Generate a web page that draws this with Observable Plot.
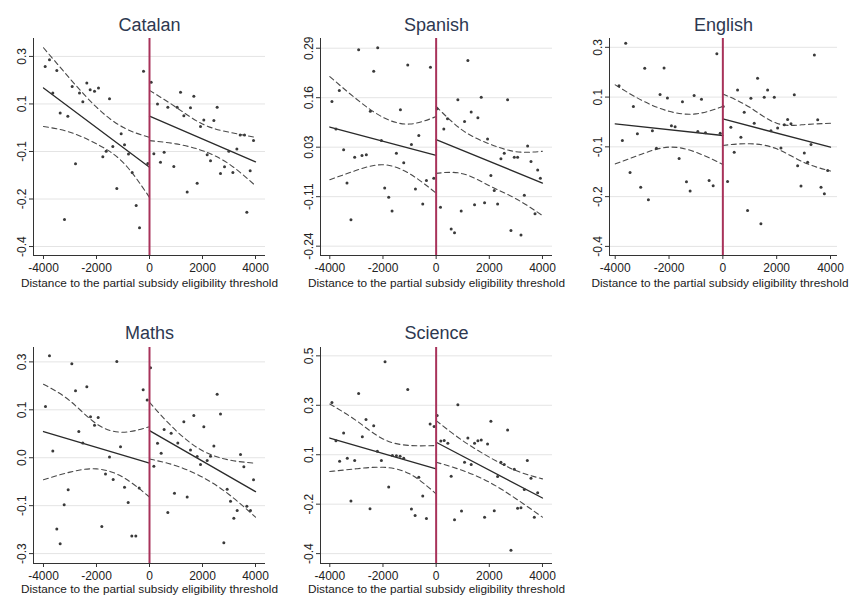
<!DOCTYPE html>
<html>
<head>
<meta charset="utf-8">
<script src="https://cdn.jsdelivr.net/npm/d3@7"></script>
<script src="https://cdn.jsdelivr.net/npm/@observablehq/plot@0.6"></script>
<style>
  html, body { margin: 0; padding: 0; background: #fff; }
  #root { position: relative; width: 851px; height: 596px; font-family: "Liberation Sans", Arial, sans-serif; }
  .panel { position: absolute; }
</style>
</head>
<body>
<div id="root"></div>
<script>
// ---------------- DATA ----------------
const xTicks = [-4000, -2000, 0, 2000, 4000];
const xTitle = "Distance to the partial subsidy eligibility threshold";
const ciLeftX = [-4000, -3000, -2000, -1000, 0];
const ciRightX = [0, 1000, 2000, 3000, 4000];

// Catalan
const catalanX = [-3937,-3774,-3648,-3497,-3371,-3208,-3082,-2918,-2792,-2642,-2516,-2365,-2239,-2075,-1925,-1761,-1635,-1509,-1384,-1233,-1069,-943,-792,-654,-503,-377,-226,-63,
  63,164,302,415,553,692,918,1044,1170,1296,1421,1547,1673,1799,1925,2050,2176,2302,2428,2553,2679,2830,2994,3145,3296,3421,3585,3673,3799,3925];
const catalanY = [0.263,0.288,0.165,0.248,0.092,-0.300,0.080,0.189,-0.095,0.165,0.133,0.202,0.177,0.172,0.184,-0.069,-0.049,0.144,-0.032,-0.186,0.015,-0.025,-0.059,-0.127,-0.249,-0.331,0.245,-0.094,
  0.205,-0.058,0.125,-0.090,-0.053,0.113,-0.105,0.113,0.168,0.082,-0.199,0.111,0.153,-0.167,0.042,0.066,-0.062,-0.084,0.064,0.113,-0.131,-0.106,-0.049,-0.127,-0.041,0.011,0.011,-0.274,-0.121,-0.010];
const catalanFitLeft = [0.184, -0.108];
const catalanFitRight = [0.080, -0.088];
const catalanUpperLeft = [0.332, 0.218, 0.113, 0.039, 0.002];
const catalanLowerLeft = [0.042, 0.021, -0.022, -0.090, -0.219];
const catalanUpperRight = [0.175, 0.113, 0.051, 0.021, 0.002];
const catalanLowerRight = [-0.010, -0.022, -0.047, -0.096, -0.176];
const catalanTicks = [0.3, 0.125, -0.05, -0.225, -0.4];
const catalanTickLabels = ["0.3", "0.1", "-0.1", "-0.2", "-0.4"];

// Spanish
const spanishX = [-3920,-3769,-3643,-3480,-3354,-3204,-3065,-2915,-2789,-2626,-2475,-2349,-2198,-2060,-1935,-1784,-1658,-1495,-1344,-1219,-1068,-930,-779,-653,-503,-364,-214,-88,
  38,163,289,427,565,691,817,942,1068,1193,1319,1445,1570,1696,1822,1935,2060,2186,2312,2437,2563,2688,2814,2940,3065,3191,3317,3442,3568,3719,3819,3920];
const spanishY = [0.147,0.074,0.177,0.018,-0.071,-0.169,-0.002,0.286,0.003,0.005,0.121,0.228,0.291,0.043,-0.084,-0.109,-0.146,0.009,0.125,-0.017,0.245,0.032,-0.087,0.056,-0.127,-0.064,0.239,-0.058,
  0.128,-0.136,0.074,0.101,-0.194,-0.204,0.152,-0.146,0.094,0.257,0.119,-0.129,0.104,0.159,-0.124,0.047,-0.051,-0.091,-0.127,-0.006,0.009,0.152,-0.198,-0.002,-0.002,-0.210,-0.104,0.028,-0.013,-0.153,-0.036,-0.058];
const spanishFitLeft = [0.079, 0.003];
const spanishFitRight = [0.045, -0.071];
const spanishUpperLeft = [0.214, 0.154, 0.105, 0.087, 0.107];
const spanishLowerLeft = [-0.062, -0.037, -0.022, -0.046, -0.098];
const spanishUpperRight = [0.134, 0.070, 0.034, 0.013, 0.014];
const spanishLowerRight = [-0.045, -0.046, -0.078, -0.113, -0.158];
const spanishTicks = [0.29, 0.1575, 0.025, -0.1075, -0.24];
const spanishTickLabels = ["0.29", "0.16", "0.03", "-0.11", "-0.24"];

// English
const englishX = [-3859,-3734,-3610,-3449,-3325,-3176,-3052,-2903,-2767,-2618,-2469,-2333,-2184,-2060,-1911,-1774,-1625,-1501,-1352,-1216,-1067,-931,-794,-645,-509,-360,-223,-99,
  12,174,298,422,546,670,794,918,1042,1166,1290,1414,1538,1663,1787,1911,2035,2159,2283,2407,2531,2655,2779,2903,3027,3151,3275,3400,3524,3648,3772,3896];
const englishY = [0.165,-0.028,0.314,-0.140,0.092,-0.004,-0.192,0.226,-0.236,0.007,-0.055,0.134,0.227,0.122,0.024,0.021,-0.091,0.109,-0.173,-0.205,0.131,0.004,0.117,0.000,-0.168,-0.187,0.277,-0.002,
  0.092,-0.172,0.019,-0.069,0.150,-0.016,0.072,-0.274,0.121,0.033,0.191,-0.320,0.124,0.150,0.007,0.124,0.016,-0.054,0.028,0.046,0.031,0.133,-0.116,-0.188,-0.072,-0.104,-0.042,0.273,0.045,-0.192,-0.215,-0.133];
const englishFitLeft = [0.031, -0.010];
const englishFitRight = [0.048, -0.051];
const englishUpperLeft = [0.168, 0.113, 0.075, 0.066, 0.092];
const englishLowerLeft = [-0.110, -0.075, -0.051, -0.069, -0.112];
const englishUpperRight = [0.136, 0.089, 0.033, 0.028, 0.033];
const englishLowerRight = [-0.045, -0.039, -0.057, -0.104, -0.135];
const englishTicks = [0.3, 0.125, -0.05, -0.225, -0.4];
const englishTickLabels = ["0.3", "0.1", "-0.1", "-0.2", "-0.4"];

// Maths
const mathsX = [-3925,-3774,-3648,-3497,-3371,-3220,-3069,-2931,-2792,-2667,-2516,-2365,-2226,-2075,-1937,-1799,-1660,-1509,-1371,-1233,-1094,-943,-805,-667,-516,-390,-239,-88,
  38,164,302,440,553,692,818,943,1069,1296,1421,1547,1673,1799,1925,2050,2176,2302,2428,2553,2679,2805,2931,3057,3182,3308,3434,3560,3673,3811,3925];
const mathsY = [0.160,0.319,0.021,-0.223,-0.269,-0.147,-0.100,0.294,0.210,0.082,0.046,0.222,0.128,0.102,0.126,-0.215,-0.051,0.002,-0.068,0.301,0.034,-0.092,-0.140,-0.245,-0.245,-0.095,0.213,0.181,
  0.282,-0.027,0.045,0.014,0.088,-0.171,0.077,-0.111,0.046,0.113,-0.123,0.024,0.132,0.004,-0.021,0.097,-0.009,0.005,0.037,0.199,0.137,-0.266,-0.099,-0.136,-0.189,-0.165,0.010,-0.028,-0.152,-0.165,-0.069];
const mathsFitLeft = [0.082, -0.017];
const mathsFitRight = [0.085, -0.106];
const mathsUpperLeft = [0.230, 0.178, 0.106, 0.080, 0.097];
const mathsLowerLeft = [-0.069, -0.045, -0.035, -0.061, -0.123];
const mathsUpperRight = [0.173, 0.085, 0.022, -0.007, -0.017];
const mathsLowerRight = [-0.004, -0.025, -0.061, -0.115, -0.186];
const mathsTicks = [0.3, 0.15, 0, -0.15, -0.3];
const mathsTickLabels = ["0.3", "0.1", "0.0", "-0.1", "-0.3"];

// Science
const scienceX = [-3920,-3769,-3631,-3480,-3342,-3204,-3065,-2915,-2776,-2638,-2487,-2349,-2211,-2060,-1922,-1784,-1646,-1495,-1357,-1219,-1068,-930,-791,-653,-503,-364,-226,-75,
  38,176,302,440,565,691,817,955,1068,1193,1319,1445,1570,1696,1822,1935,2060,2186,2312,2437,2563,2688,2814,2940,3065,3191,3317,3430,3568,3693,3819];
const scienceY = [0.288,0.114,0.020,0.149,0.034,-0.161,0.024,0.329,0.132,0.210,-0.196,0.182,0.066,0.024,0.473,-0.097,0.046,0.045,0.043,0.034,0.347,-0.197,-0.226,-0.052,-0.138,-0.240,0.190,0.178,
  0.228,0.113,0.115,0.102,-0.048,-0.246,0.278,-0.206,0.016,0.126,0.005,0.102,0.114,0.117,-0.234,0.099,0.202,-0.205,-0.049,0.016,0.005,0.163,-0.385,-0.016,-0.193,-0.191,-0.108,0.024,-0.057,-0.234,-0.123];
const scienceFitLeft = [0.126, -0.014];
const scienceFitRight = [0.107, -0.147];
const scienceUpperLeft = [0.281, 0.205, 0.122, 0.092, 0.092];
const scienceLowerLeft = [-0.026, -0.014, -0.007, -0.037, -0.128];
const scienceUpperRight = [0.205, 0.114, 0.039, -0.022, -0.060];
const scienceLowerRight = [0.016, -0.022, -0.075, -0.150, -0.234];
const scienceTicks = [0.5, 0.275, 0.05, -0.175, -0.4];
const scienceTickLabels = ["0.5", "0.3", "0.1", "-0.2", "-0.4"];

// ---------------- LAYOUT ----------------
const panels = [
  {title: "Catalan", X: catalanX, Y: catalanY, fitL: catalanFitLeft, fitR: catalanFitRight,
   uL: catalanUpperLeft, lL: catalanLowerLeft, uR: catalanUpperRight, lR: catalanLowerRight,
   ticks: catalanTicks, labels: catalanTickLabels,
   left: 0, top: 0, width: 285, height: 290, m: [38, 20, 35, 33], xd: [-4377, 4377], yd: [-0.433, 0.366], tdy: -13, xtdy: 28, xtdx: 0},
  {title: "Spanish", X: spanishX, Y: spanishY, fitL: spanishFitLeft, fitR: spanishFitRight,
   uL: spanishUpperLeft, lL: spanishLowerLeft, uR: spanishUpperRight, lR: spanishLowerRight,
   ticks: spanishTicks, labels: spanishTickLabels,
   left: 285, top: 0, width: 285, height: 290, m: [38, 18, 35, 35], xd: [-4350, 4377], yd: [-0.265, 0.316], tdy: -13, xtdy: 28, xtdx: 0},
  {title: "English", X: englishX, Y: englishY, fitL: englishFitLeft, fitR: englishFitRight,
   uL: englishUpperLeft, lL: englishLowerLeft, uR: englishUpperRight, lR: englishLowerRight,
   ticks: englishTicks, labels: englishTickLabels,
   left: 570, top: 0, width: 281, height: 290, m: [38, 14, 35, 39], xd: [-4212, 4260], yd: [-0.432, 0.331], tdy: -13, xtdy: 28, xtdx: -3.5},
  {title: "Maths", X: mathsX, Y: mathsY, fitL: mathsFitLeft, fitR: mathsFitRight,
   uL: mathsUpperLeft, lL: mathsLowerLeft, uR: mathsUpperRight, lR: mathsLowerRight,
   ticks: mathsTicks, labels: mathsTickLabels,
   left: 0, top: 290, width: 285, height: 306, m: [57, 20, 33, 33], xd: [-4377, 4377], yd: [-0.331, 0.345], tdy: -14, xtdy: 26, xtdx: 0},
  {title: "Science", X: scienceX, Y: scienceY, fitL: scienceFitLeft, fitR: scienceFitRight,
   uL: scienceUpperLeft, lL: scienceLowerLeft, uR: scienceUpperRight, lR: scienceLowerRight,
   ticks: scienceTicks, labels: scienceTickLabels,
   left: 285, top: 290, width: 285, height: 306, m: [57, 18, 33, 35], xd: [-4350, 4377], yd: [-0.445, 0.538], tdy: -14, xtdy: 26, xtdx: 0}
];

const root = document.getElementById("root");
const pts = (xs, ys) => xs.map((x, i) => ({x, y: ys[i]}));

for (const p of panels) {
  const labelMap = new Map(p.ticks.map((t, i) => [t, p.labels[i]]));
  const dots = pts(p.X, p.Y);
  const fitLeft = pts([-4000, 0], p.fitL);
  const fitRight = pts([0, 4000], p.fitR);
  const dash = {x: "x", y: "y", stroke: "#4a4a4a", strokeWidth: 1.1, strokeDasharray: "5,3.5", curve: "natural"};
  const chart = Plot.plot({
    width: p.width,
    height: p.height,
    marginTop: p.m[0], marginRight: p.m[1], marginBottom: p.m[2], marginLeft: p.m[3],
    style: {fontFamily: "'Liberation Sans', Arial, sans-serif", fontSize: "12px", color: "#222", background: "white"},
    x: {domain: p.xd},
    y: {domain: p.yd},
    marks: [
      Plot.gridY(p.ticks, {stroke: "#e4e4e4", strokeOpacity: 1, strokeWidth: 1}),
      Plot.ruleX([p.xd[0]], {stroke: "#333", strokeWidth: 1}),
      Plot.ruleY([p.yd[0]], {stroke: "#333", strokeWidth: 1}),
      Plot.axisX({ticks: xTicks, tickSize: 4, tickPadding: 4, label: null, tickFormat: d => String(d), stroke: "#333", fontSize: 12}),
      Plot.axisY({ticks: p.ticks, tickSize: 4, tickPadding: 4, label: null, tickRotate: -90, tickFormat: d => labelMap.get(d), stroke: "#333", fontSize: 12}),
      Plot.line(pts(ciLeftX, p.uL), dash),
      Plot.line(pts(ciLeftX, p.lL), dash),
      Plot.line(pts(ciRightX, p.uR), dash),
      Plot.line(pts(ciRightX, p.lR), dash),
      Plot.line(fitLeft, {x: "x", y: "y", stroke: "#2a2a2a", strokeWidth: 1.3}),
      Plot.line(fitRight, {x: "x", y: "y", stroke: "#2a2a2a", strokeWidth: 1.3}),
      Plot.dot(dots, {x: "x", y: "y", r: 1.5, fill: "#3a3a3a", stroke: null}),
      Plot.ruleX([0], {stroke: "#a8325a", strokeWidth: 2}),
      Plot.text([p.title], {frameAnchor: "top", dy: p.tdy, text: d => d, fontSize: 18, fill: "#2d3850", lineAnchor: "middle"}),
      Plot.text([xTitle], {frameAnchor: "bottom", dy: p.xtdy, dx: p.xtdx, text: d => d, fontSize: 11.8, fill: "#1a1a1a", lineAnchor: "middle"})
    ]
  });
  const div = document.createElement("div");
  div.className = "panel";
  div.style.left = p.left + "px";
  div.style.top = p.top + "px";
  div.appendChild(chart);
  root.appendChild(div);
}
</script>
</body>
</html>
